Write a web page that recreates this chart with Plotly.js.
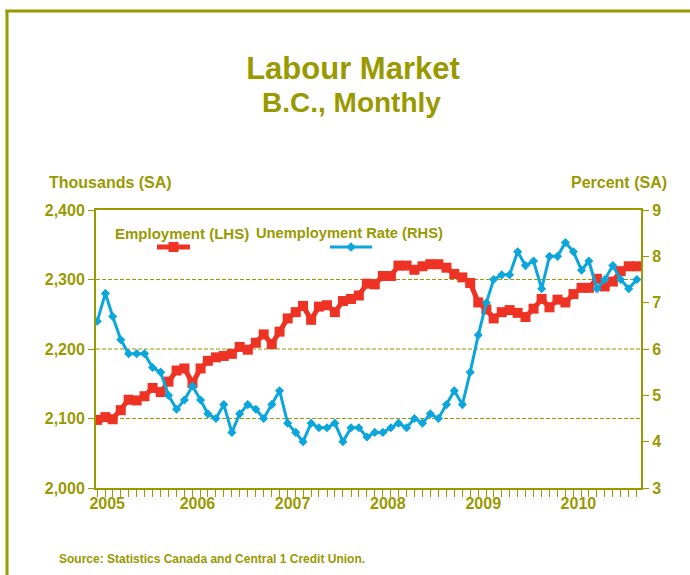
<!DOCTYPE html>
<html>
<head>
<meta charset="utf-8">
<script src="https://cdn.plot.ly/plotly-3.0.1.min.js"></script>
<style>html,body{margin:0;padding:0;background:#fff;}#chart{width:690px;height:575px;}</style>
</head>
<body>
<div id="chart"></div>
<script>
// ---- data ----
const startYear = 2005;
const monthCount = 69; // Jan 2005 .. Sep 2010
const months = [];
for (let i = 0; i < monthCount; i++) {
  const y = startYear + Math.floor(i / 12), m = (i % 12) + 1;
  months.push(y + '-' + String(m).padStart(2, '0') + '-01');
}
const employment = [
  2098, 2102, 2099, 2112, 2127, 2126, 2132, 2144, 2138, 2153, 2169, 2172,
  2151, 2172, 2183, 2188, 2190, 2193, 2203, 2199, 2209, 2221, 2207, 2225,
  2244, 2253, 2262, 2242, 2261, 2263, 2253, 2269, 2272, 2277, 2294, 2293,
  2305, 2305, 2320, 2320, 2314, 2319, 2322, 2322, 2317, 2308, 2303, 2295,
  2267, 2257, 2244, 2253, 2256, 2252, 2246, 2258, 2272, 2260, 2271, 2267,
  2279, 2288, 2288, 2301, 2290, 2297, 2312, 2319, 2319
];
const unemployment = [
  6.6, 7.2, 6.7, 6.2, 5.9, 5.9, 5.9, 5.6, 5.5, 5.0, 4.7, 4.9,
  5.2, 4.9, 4.6, 4.5, 4.8, 4.2, 4.6, 4.8, 4.7, 4.5, 4.8, 5.1,
  4.4, 4.2, 4.0, 4.4, 4.3, 4.3, 4.4, 4.0, 4.3, 4.3, 4.1, 4.2,
  4.2, 4.3, 4.4, 4.3, 4.5, 4.4, 4.6, 4.5, 4.8, 5.1, 4.8, 5.5,
  6.3, 7.0, 7.5, 7.6, 7.6, 8.1, 7.8, 7.9, 7.3, 8.0, 8.0, 8.3,
  8.1, 7.7, 7.9, 7.3, 7.5, 7.8, 7.5, 7.3, 7.5
];
const yearLabels = ['2005', '2006', '2007', '2008', '2009', '2010'];
const yearLabelDates = ['2005-02-08', '2006-01-20', '2007-01-20', '2008-01-20', '2009-01-20', '2010-01-20'];
const leftTicks = [2000, 2100, 2200, 2300, 2400];
const gridValues = [2100, 2200, 2300];
const rightTicks = [3, 4, 5, 6, 7, 8, 9];
const seriesNames = ['Employment (LHS)', 'Unemployment Rate (RHS)'];

// ---- style ----
const OLIVE = '#999900';
const RED = '#EE3224';
const BLUE = '#0BA6DC';
const FONT = 'Liberation Sans, Arial, sans-serif';
const W = 690, H = 575, L = 96, R = 49, T = 210, B = 87;
const PW = W - L - R, PH = H - T - B;
const px = x => (x - L) / PW;
const py = y => (H - B - y) / PH;

const traces = [
  {x: months, y: employment, type: 'scatter', mode: 'lines+markers', name: seriesNames[0],
   line: {color: RED, width: 5}, marker: {symbol: 'square', size: 10, color: RED},
   yaxis: 'y', showlegend: false, hoverinfo: 'skip'},
  {x: months, y: unemployment, type: 'scatter', mode: 'lines+markers', name: seriesNames[1],
   line: {color: BLUE, width: 3}, marker: {symbol: 'diamond', size: 7, color: BLUE},
   yaxis: 'y2', showlegend: false, hoverinfo: 'skip'}
];

const tickFont = {family: FONT, size: 16, color: OLIVE, weight: 'bold'};

const P = (x, y) => px(x) + ',' + py(y);
const shapes = [
  // outer frame
  {type: 'line', xref: 'paper', yref: 'paper', x0: px(7), x1: px(7), y0: py(10), y1: py(580), line: {color: OLIVE, width: 3}},
  {type: 'line', xref: 'paper', yref: 'paper', x0: px(5.5), x1: px(695), y0: py(11), y1: py(11), line: {color: OLIVE, width: 3}},
  // legend samples
  {type: 'line', xref: 'paper', yref: 'paper', x0: px(157), x1: px(190), y0: py(247), y1: py(247), line: {color: RED, width: 5}},
  {type: 'rect', xref: 'paper', yref: 'paper', x0: px(168.5), x1: px(178.5), y0: py(242), y1: py(252), fillcolor: RED, line: {width: 0}},
  {type: 'line', xref: 'paper', yref: 'paper', x0: px(330), x1: px(372), y0: py(247), y1: py(247), line: {color: BLUE, width: 3}},
  {type: 'path', xref: 'paper', yref: 'paper', path: 'M' + P(351, 242.3) + 'L' + P(355.7, 247) + 'L' + P(351, 251.7) + 'L' + P(346.3, 247) + 'Z', fillcolor: BLUE, line: {width: 0}}
];
gridValues.forEach(v => shapes.push({type: 'line', xref: 'paper', yref: 'y', x0: 0, x1: 1, y0: v, y1: v,
  layer: 'below', line: {color: OLIVE, width: 1, dash: '4px,2px'}}));

const layout = {
  width: W, height: H,
  margin: {l: L, r: R, t: T, b: B, pad: 0},
  paper_bgcolor: '#fff', plot_bgcolor: '#fff',
  showlegend: false,
  title: {text: '<b>Labour Market</b>', font: {family: FONT, size: 31, color: OLIVE},
          x: 353 / W, xref: 'container', xanchor: 'center', y: 1 - 68 / H, yref: 'container', yanchor: 'middle'},
  xaxis: {
    type: 'date', range: ['2004-12-27', '2010-09-17'],
    tickmode: 'array', tickvals: yearLabelDates, ticktext: yearLabels,
    ticks: '', ticklen: 0, tickfont: tickFont,
    showgrid: false, zeroline: false,
    showline: true, linecolor: OLIVE, linewidth: 2, mirror: true,
    minor: {tickmode: 'linear', dtick: 'M1', tick0: '2005-01-01', ticks: 'outside', ticklen: 7, tickwidth: 1, tickcolor: OLIVE, showgrid: false}
  },
  yaxis: {
    range: [2000, 2400], tickmode: 'array', tickvals: leftTicks, tickformat: ',',
    ticks: 'outside', ticklen: 6, tickwidth: 1, tickcolor: OLIVE, tickfont: tickFont,
    showgrid: false, zeroline: false, showline: true, linecolor: OLIVE, linewidth: 2
  },
  yaxis2: {
    range: [3, 9], tickmode: 'array', tickvals: rightTicks, overlaying: 'y', side: 'right',
    ticks: 'outside', ticklen: 6, tickwidth: 1, tickcolor: OLIVE, tickfont: tickFont,
    showgrid: false, zeroline: false, showline: true, linecolor: OLIVE, linewidth: 2
  },
  annotations: [
    {text: '<b>B.C., Monthly</b>', xref: 'paper', yref: 'paper', x: px(351), y: py(103), xanchor: 'center', yanchor: 'middle', showarrow: false, font: {family: FONT, size: 28, color: OLIVE}},
    {text: '<b>Thousands (SA)</b>', xref: 'paper', yref: 'paper', x: px(47), y: py(183), xanchor: 'left', yanchor: 'middle', showarrow: false, font: {family: FONT, size: 16, color: OLIVE}},
    {text: '<b>Percent (SA)</b>', xref: 'paper', yref: 'paper', x: px(669), y: py(183), xanchor: 'right', yanchor: 'middle', showarrow: false, font: {family: FONT, size: 16, color: OLIVE}},
    {text: '<b>' + seriesNames[0] + '</b>', xref: 'paper', yref: 'paper', x: px(182), y: py(233), xanchor: 'center', yanchor: 'middle', showarrow: false, font: {family: FONT, size: 15, color: OLIVE}},
    {text: '<b>' + seriesNames[1] + '</b>', xref: 'paper', yref: 'paper', x: px(349), y: py(233), xanchor: 'center', yanchor: 'middle', showarrow: false, font: {family: FONT, size: 14.7, color: OLIVE}},
    {text: '<b>Source: Statistics Canada and Central 1 Credit Union.</b>', xref: 'paper', yref: 'paper', x: px(57), y: py(559), xanchor: 'left', yanchor: 'middle', showarrow: false, font: {family: FONT, size: 12, color: OLIVE}}
  ],
  shapes: shapes
};

Plotly.newPlot('chart', traces, layout, {staticPlot: true, displayModeBar: false});
</script>
</body>
</html>
